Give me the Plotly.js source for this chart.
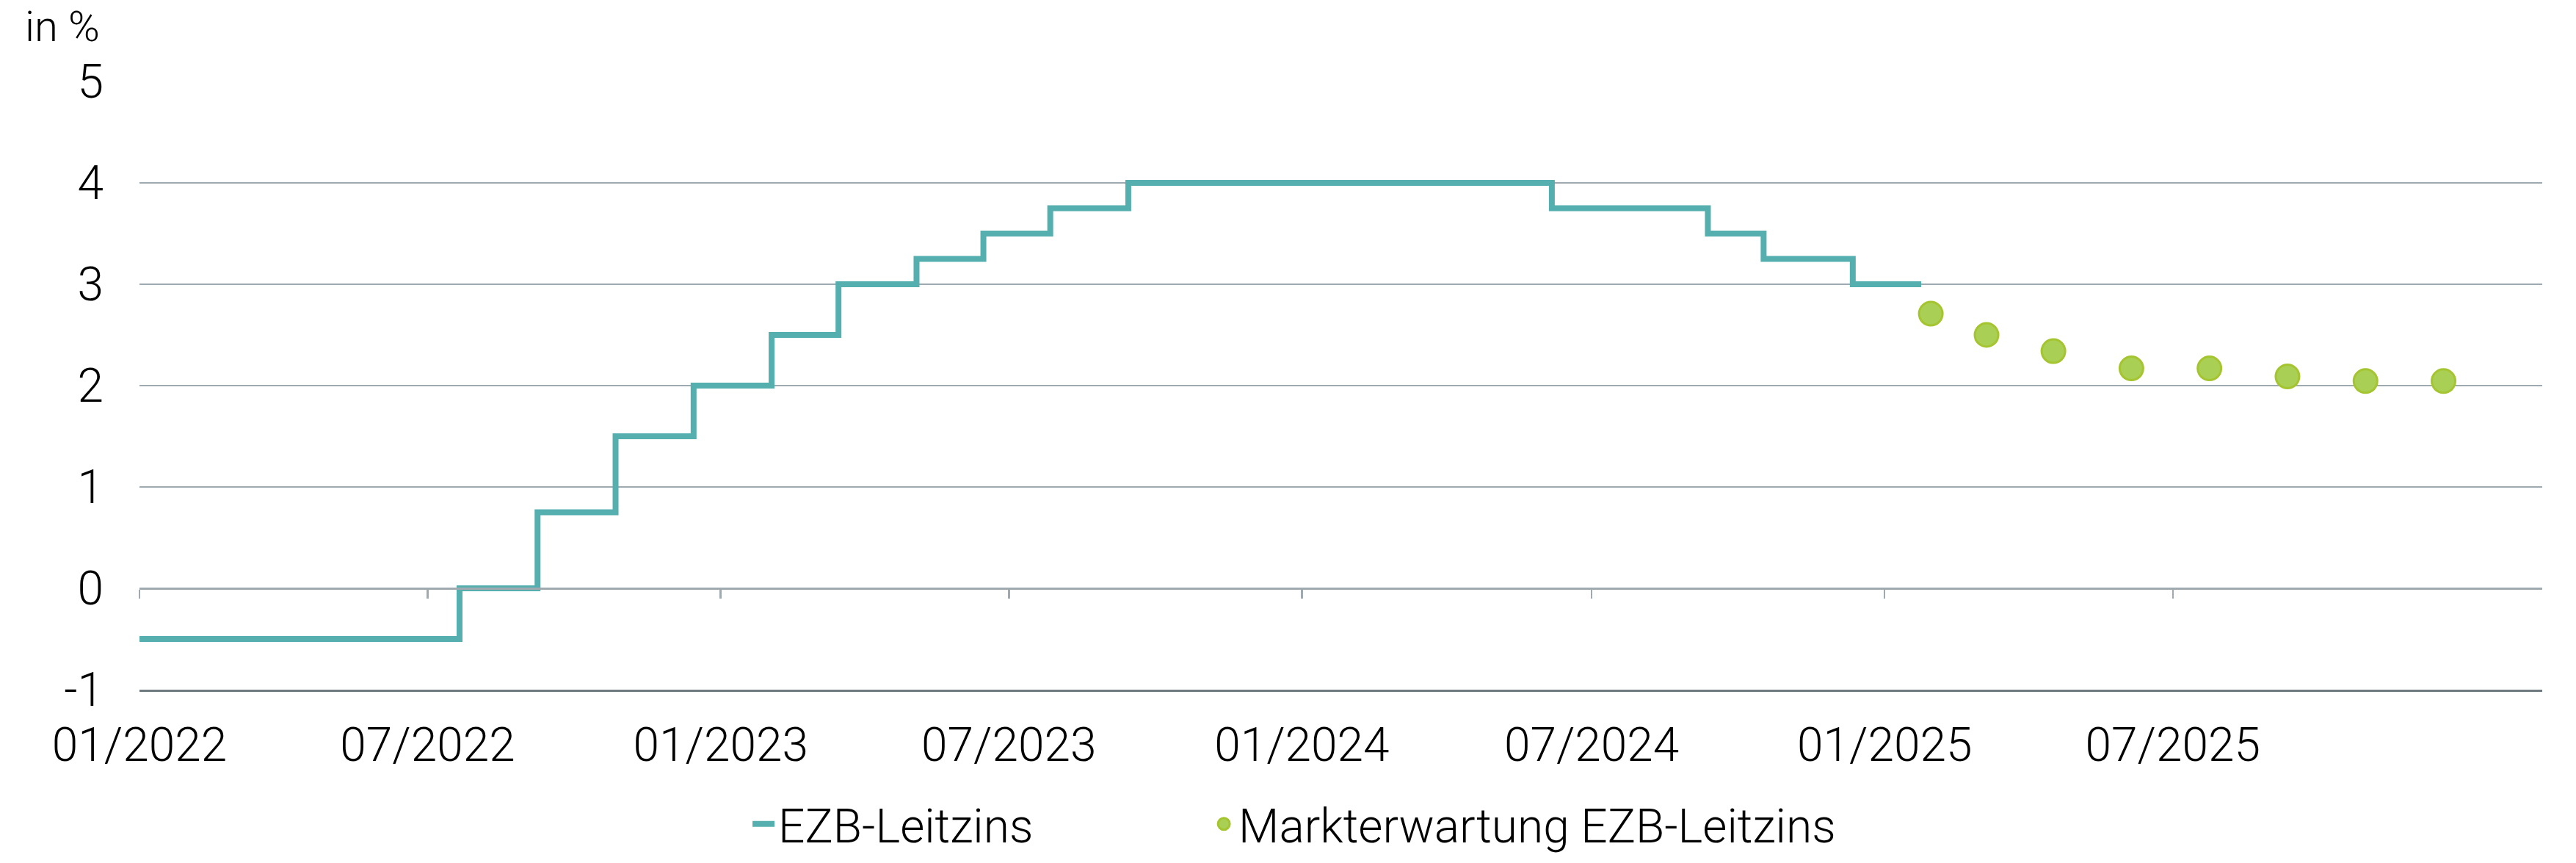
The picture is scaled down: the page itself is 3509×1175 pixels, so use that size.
<!DOCTYPE html>
<html>
<head>
<meta charset="utf-8">
<script src="https://cdn.plot.ly/plotly-3.0.1.min.js"></script>
<style>
  html, body { margin: 0; padding: 0; background: #fff; }
  #chart { width: 3509px; height: 1175px; }
</style>
</head>
<body>
<div id="chart"></div>
<script>
// ECB key rate (deposit facility), step dates and levels
const rateDates = ['2022-01-01','2022-07-21','2022-09-08','2022-10-27','2022-12-15','2023-02-02','2023-03-16','2023-05-04','2023-06-15','2023-07-27','2023-09-14','2024-06-06','2024-09-12','2024-10-17','2024-12-12','2025-01-24'];
const rateValues = [-0.5, 0, 0.75, 1.5, 2.0, 2.5, 3.0, 3.25, 3.5, 3.75, 4.0, 3.75, 3.5, 3.25, 3.0, 3.0];

// Market expectation at upcoming meeting dates
const expDates = ['2025-01-30','2025-03-06','2025-04-17','2025-06-05','2025-07-24','2025-09-11','2025-10-30','2025-12-18'];
const expValues = [2.71, 2.50, 2.34, 2.17, 2.17, 2.09, 2.045, 2.045];

// Tick labels
const tickDates = ['2022-01-01','2022-07-01','2023-01-01','2023-07-01','2024-01-01','2024-07-01','2025-01-01','2025-07-01'];
const tickLabels = ['01/2022','07/2022','01/2023','07/2023','01/2024','07/2024','01/2025','07/2025'];
const yTicks = [-1, 0, 1, 2, 3, 4, 5];
const yLabels = ['-1', '0', '1', '2', '3', '4', '5'];

const FONT = 'Roboto, "Liberation Sans", Arial, sans-serif';
const xRange = ['2022-01-01', '2026-02-18'];
const gridCol = '#9FA9B0';

const traces = [
  {
    type: 'scatter', mode: 'lines', name: 'EZB-Leitzins',
    x: rateDates, y: rateValues,
    line: { color: '#55AFAF', width: 8, shape: 'hv' },
    legend: 'legend',
    hoverinfo: 'skip'
  },
  {
    type: 'scatter', mode: 'markers', name: 'Markterwartung EZB-Leitzins',
    x: expDates, y: expValues,
    marker: { color: '#A9CF54', size: 32, line: { color: '#A5C530', width: 3 } },
    legend: 'legend2',
    hoverinfo: 'skip'
  },
  // empty helper trace so the zero-line axis (x2) carries its ticks
  { type: 'scatter', x: [], y: [], xaxis: 'x2', yaxis: 'y', showlegend: false, hoverinfo: 'skip' }
];

const legendFont = { family: FONT, size: 64, color: '#000', weight: 300 };

const layout = {
  width: 3509, height: 1175,
  paper_bgcolor: '#fff', plot_bgcolor: '#fff',
  margin: { l: 190, r: 46, t: 111, b: 236 },
  font: { family: FONT, color: '#000', size: 64, weight: 300 },
  showlegend: true,
  legend: {
    orientation: 'h', xref: 'container', yref: 'container',
    x: 0.2907, xanchor: 'left', y: 0.045, yanchor: 'middle',
    font: legendFont, bgcolor: 'rgba(0,0,0,0)'
  },
  legend2: {
    orientation: 'h', xref: 'container', yref: 'container',
    x: 0.4694, xanchor: 'left', y: 0.045, yanchor: 'middle',
    font: legendFont, bgcolor: 'rgba(0,0,0,0)'
  },
  xaxis: {
    type: 'date', range: xRange,
    tickmode: 'array', tickvals: tickDates, ticktext: tickLabels,
    showgrid: false, zeroline: false,
    showline: true, linecolor: '#6E7A80', linewidth: 2.5,
    ticks: '', ticklabelstandoff: 18,
    tickfont: { family: FONT, size: 64, color: '#000', weight: 300 },
    fixedrange: true
  },
  xaxis2: {
    type: 'date', range: xRange, overlaying: 'x', anchor: 'free', position: 1/6,
    tickmode: 'array', tickvals: tickDates,
    showticklabels: false, showgrid: false, zeroline: false,
    showline: true, linecolor: gridCol, linewidth: 2.5,
    ticks: 'outside', ticklen: 12, tickwidth: 2.5, tickcolor: gridCol,
    fixedrange: true
  },
  yaxis: {
    range: [-1, 5], domain: [0, 1],
    tickmode: 'array', tickvals: yTicks, ticktext: yLabels,
    showgrid: true, gridcolor: gridCol, gridwidth: 2.5,
    zeroline: false, showline: false, ticks: '',
    ticklabelstandoff: 48,
    tickfont: { family: FONT, size: 64, color: '#000', weight: 300 },
    fixedrange: true
  },
  annotations: [
    {
      text: 'in %', xref: 'paper', yref: 'paper',
      x: -0.0483, xanchor: 'left', y: 1.134, yanchor: 'top',
      showarrow: false,
      font: { family: FONT, size: 58, color: '#000', weight: 300 }
    }
  ]
};

Plotly.newPlot('chart', traces, layout, { staticPlot: true, displayModeBar: false });
</script>
</body>
</html>
